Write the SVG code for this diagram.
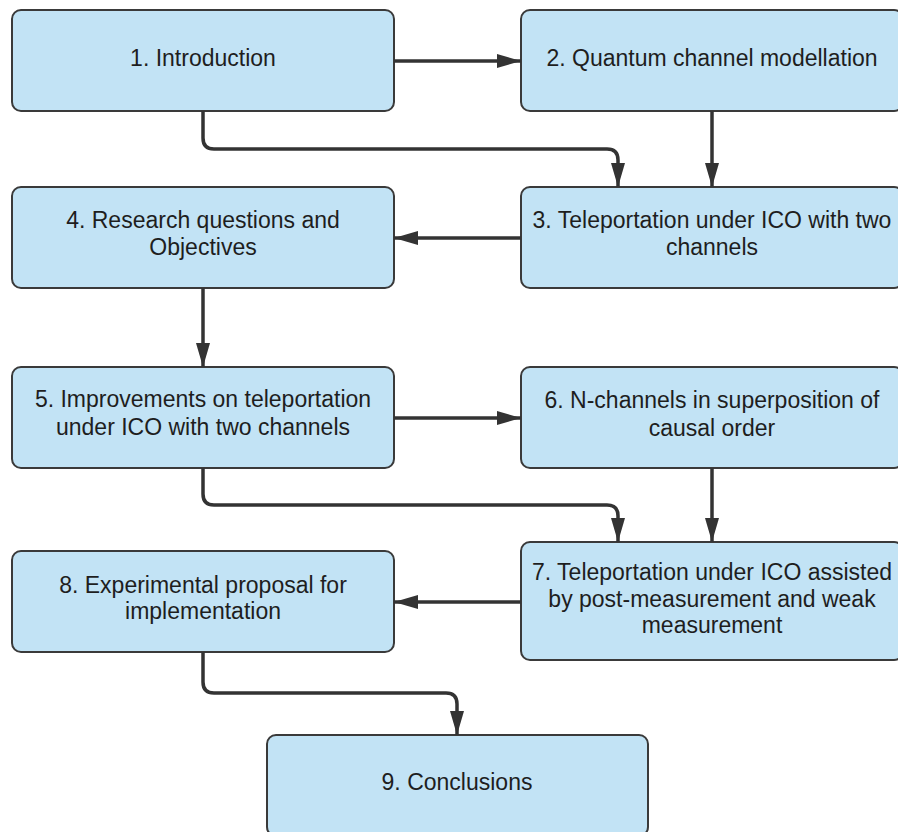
<svg xmlns="http://www.w3.org/2000/svg" width="898" height="832" viewBox="0 0 898 832">
  <defs>
    <marker id="arrow" viewBox="0 0 24 14" refX="24" refY="7" markerWidth="24" markerHeight="14" markerUnits="userSpaceOnUse" orient="auto">
      <path d="M0,0 L24,7 L0,14 Z" fill="#333333"/>
    </marker>
    <style>
      .box { fill: #c2e3f5; stroke: #3a3a3a; stroke-width: 2; }
      .label { font-family: "Liberation Sans", Arial, sans-serif; font-size: 23px; fill: #1e1e1e; text-anchor: middle; }
      .edge { fill: none; stroke: #333333; stroke-width: 3.5; marker-end: url(#arrow); }
    </style>
  </defs>
  <rect width="898" height="832" fill="#ffffff"/>

  <g id="n1">
    <rect class="box" x="12" y="10" width="382" height="101" rx="9"/>
    <text class="label" x="203" y="66">1. Introduction</text>
  </g>
  <g id="n2">
    <rect class="box" x="521" y="10" width="382" height="101" rx="9"/>
    <text class="label" x="712" y="66">2. Quantum channel modellation</text>
  </g>
  <g id="n3">
    <rect class="box" x="521" y="187" width="382" height="101" rx="9"/>
    <text class="label" x="712" y="228">3. Teleportation under ICO with two</text>
    <text class="label" x="712" y="255">channels</text>
  </g>
  <g id="n4">
    <rect class="box" x="12" y="187" width="382" height="101" rx="9"/>
    <text class="label" x="203" y="228">4. Research questions and</text>
    <text class="label" x="203" y="255">Objectives</text>
  </g>
  <g id="n5">
    <rect class="box" x="12" y="367" width="382" height="101" rx="9"/>
    <text class="label" x="203" y="407">5. Improvements on teleportation</text>
    <text class="label" x="203" y="435">under ICO with two channels</text>
  </g>
  <g id="n6">
    <rect class="box" x="521" y="367" width="382" height="101" rx="9"/>
    <text class="label" x="712" y="408">6. N-channels in superposition of</text>
    <text class="label" x="712" y="436">causal order</text>
  </g>
  <g id="n7">
    <rect class="box" x="521" y="542" width="382" height="118" rx="9"/>
    <text class="label" x="712" y="580">7. Teleportation under ICO assisted</text>
    <text class="label" x="712" y="607">by post-measurement and weak</text>
    <text class="label" x="712" y="633">measurement</text>
  </g>
  <g id="n8">
    <rect class="box" x="12" y="551" width="382" height="101" rx="9"/>
    <text class="label" x="203" y="593">8. Experimental proposal for</text>
    <text class="label" x="203" y="619">implementation</text>
  </g>
  <g id="n9">
    <rect class="box" x="267" y="735" width="381" height="101" rx="9"/>
    <text class="label" x="457" y="790">9. Conclusions</text>
  </g>

  <g id="connectors">
    <path class="edge" d="M394,61 L521,61"/>
    <path class="edge" d="M203,111 L203,138 Q203,149 214,149 L607,149 Q618,149 618,160 L618,187"/>
    <path class="edge" d="M712,111 L712,187"/>
    <path class="edge" d="M521,238 L394,238"/>
    <path class="edge" d="M203,288 L203,367"/>
    <path class="edge" d="M394,418 L521,418"/>
    <path class="edge" d="M203,468 L203,494 Q203,505 214,505 L607,505 Q618,505 618,516 L618,542"/>
    <path class="edge" d="M712,468 L712,542"/>
    <path class="edge" d="M521,602 L394,602"/>
    <path class="edge" d="M203,652 L203,682 Q203,693 214,693 L446,693 Q457,693 457,704 L457,735"/>
  </g>
</svg>
